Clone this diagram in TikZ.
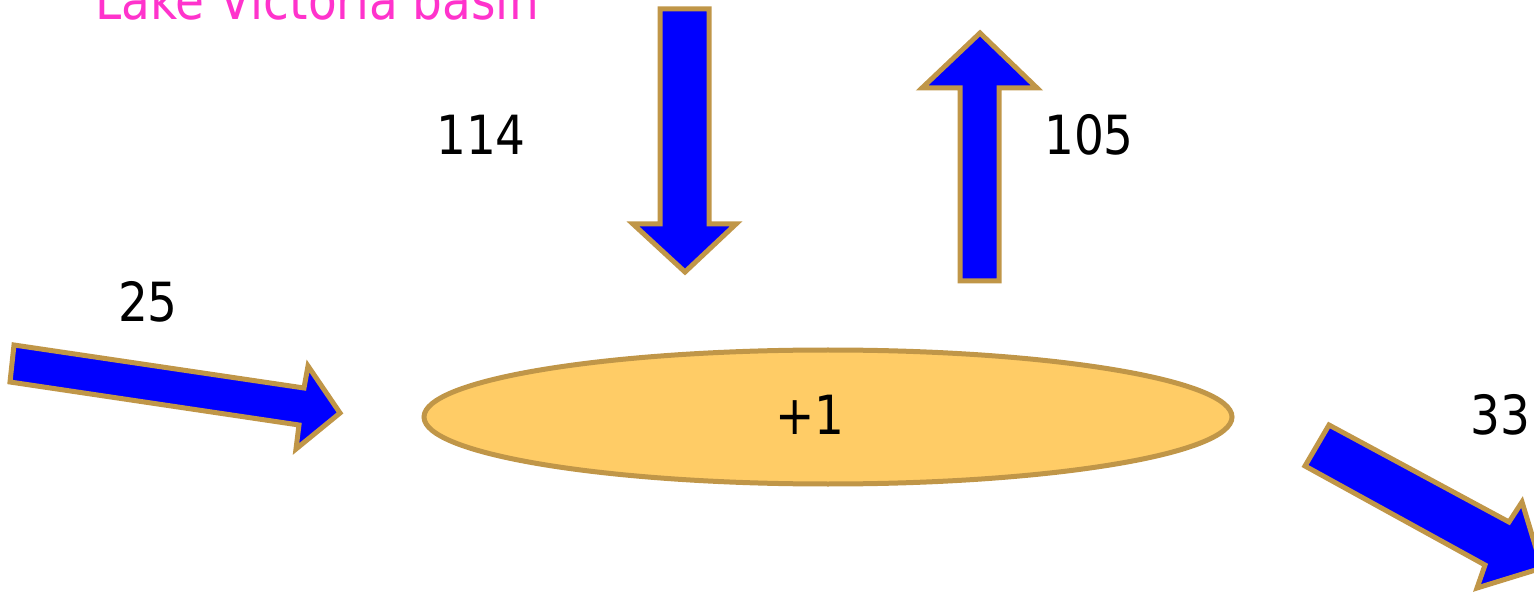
\documentclass[tikz,border=0pt]{standalone}
\usepackage{fontspec}
\setmainfont{DejaVu Sans}[FakeStretch=0.87]
\definecolor{arrowedge}{RGB}{192,150,72}
\definecolor{arrowfill}{RGB}{0,0,255}
\definecolor{lakefill}{RGB}{255,204,102}
\definecolor{titlecol}{RGB}{255,51,204}
\begin{document}
\begin{tikzpicture}[x=1pt,y=-1pt,
  flowarrow/.style={draw=arrowedge,fill=arrowfill,line width=5pt,line join=miter},
  lakeshape/.style={draw=arrowedge,fill=lakefill,line width=5pt},
  numlabel/.style={font=\fontsize{54}{60}\selectfont,text=black,anchor=base,inner sep=0pt},
  titlelabel/.style={font=\fontsize{54}{60}\selectfont,text=titlecol,anchor=base,inner sep=0pt}]
\useasboundingbox (0,0) rectangle (1534,593);
\clip (0,0) rectangle (1534,593);
% lake
\draw[lakeshape] (828,417) ellipse [x radius=404, y radius=67];
% arrows
\draw[flowarrow] (660,9) -- (709,9) -- (709,224) -- (736,224) -- (685,272) -- (633,224) -- (660,224) -- cycle;
\draw[flowarrow] (980,33) -- (1037,88) -- (999,88) -- (999,281) -- (960,281) -- (960,88) -- (922,88) -- cycle;
\draw[flowarrow] (14,345) -- (304,388) -- (308,366) -- (340,413) -- (296,449) -- (299,425) -- (10,382) -- cycle;
\draw[flowarrow] (1329,425) -- (1509,522) -- (1522,502) -- (1542,568) -- (1477,588) -- (1485,565) -- (1305,466) -- cycle;
% labels
\node[titlelabel] (title) at (317,20) {Lake Victoria basin};
\node[numlabel] (rain) at (481,155) {114};
\node[numlabel] (evap) at (1089,155) {105};
\node[numlabel] (inflow) at (148,322) {25};
\node[numlabel] (outflow) at (1500,435) {33};
\node[numlabel] (change) at (810,435) {+1};
\end{tikzpicture}
\end{document}
